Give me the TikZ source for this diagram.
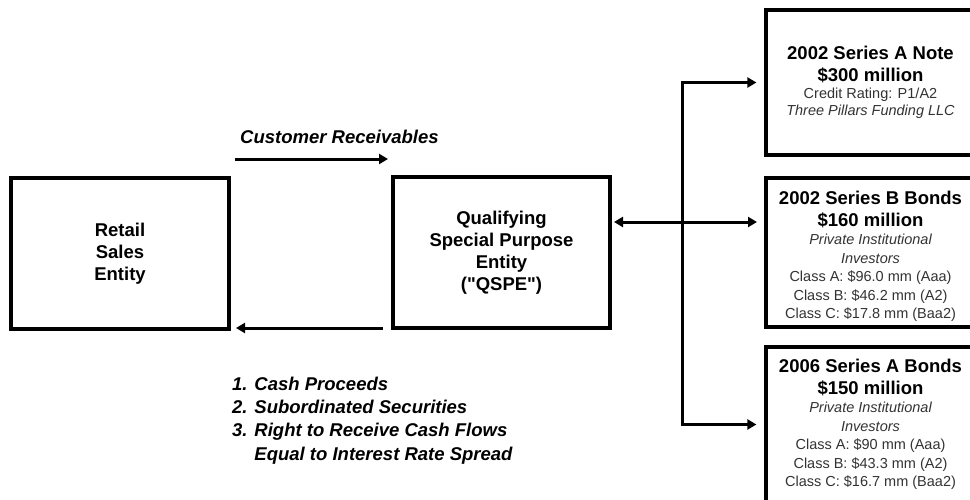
\documentclass[tikz,border=0pt]{standalone}
\usepackage{fontspec}
\setmainfont{Liberation Sans}
\usetikzlibrary{arrows.meta,calc}
\newcommand\straightdq{\XeTeXglyph\XeTeXcharglyph"22\relax}
\newcommand\bxtitle{\fontsize{18.5}{22}\bfseries\upshape\selectfont\color{black}}
\newcommand\bxsmall{\fontsize{14.5}{18.5}\mdseries\upshape\selectfont\color{black!80}}
\newcommand\bxsmallit{\fontsize{14.5}{18.5}\mdseries\itshape\selectfont\color{black!80}}
\tikzset{
  box/.style={draw=black, line width=3.2pt, rectangle, inner sep=0pt, fill=white},
  mainlbl/.style={font=\fontsize{18.5}{22}\bfseries\selectfont, align=center, inner sep=0pt},
  flowlbl/.style={font=\fontsize{18.5}{23.3}\bfseries\itshape\selectfont, align=left, inner sep=0pt},
  arr/.style={line width=3pt, -{Triangle[length=9pt,width=10pt]}},
  darr/.style={line width=3pt, {Triangle[length=9pt,width=10pt]}-{Triangle[length=9pt,width=10pt]}},
  plain/.style={line width=3pt},
}
\begin{document}
\begin{tikzpicture}[x=1pt,y=-1pt]
\useasboundingbox (0,0) rectangle (970,499);
\clip (0,0) rectangle (970,499);

% main boxes
\node[box, minimum width=218pt, minimum height=151pt] (rse) at (120,253.5) {};
\node[mainlbl] (rsetxt) at (rse.center) {Retail\\Sales\\Entity};

\node[box, minimum width=217pt, minimum height=151pt] (qspe) at (501.5,252.5) {};
\node[mainlbl] (qspetxt) at (qspe.center) {Qualifying\\Special Purpose\\Entity\\(\straightdq QSPE\straightdq)};

% right boxes
\node[box, minimum width=209pt, minimum height=145pt] (b1) at (870.5,82.5) {};
\node[inner sep=0pt] (b1txt) at (b1.center) {\begin{minipage}{205pt}\centering
{\bxtitle 2002 Series A Note\par}
{\bxtitle \$300 million\par}
{\fontsize{14.5}{17}\mdseries\selectfont\color{black!80} Credit Rating: P1/A2\par}
{\fontsize{14.5}{16.5}\mdseries\itshape\selectfont\color{black!80} Three Pillars Funding LLC\par}
\end{minipage}};

\node[box, minimum width=209pt, minimum height=149pt] (b2) at (870.5,252.5) {};
\node[inner sep=0pt] (b2txt) at ([yshift=-4pt]b2.center) {\begin{minipage}{205pt}\centering
{\bxtitle 2002 Series B Bonds\par}
{\bxtitle \$160 million\par}
{\bxsmallit Private Institutional\par}
{\bxsmallit Investors\par}
{\bxsmall Class A: \$96.0 mm (Aaa)\par}
{\bxsmall Class B: \$46.2 mm (A2)\par}
{\bxsmall Class C: \$17.8 mm (Baa2)\par}
\end{minipage}};

\node[box, minimum width=209pt, minimum height=155pt] (b3) at (870.5,424.5) {};
\node[inner sep=0pt] (b3txt) at ([yshift=0pt]b3.center) {\begin{minipage}{205pt}\centering
{\bxtitle 2006 Series A Bonds\par}
{\bxtitle \$150 million\par}
{\bxsmallit Private Institutional\par}
{\bxsmallit Investors\par}
{\bxsmall Class A: \$90 mm (Aaa)\par}
{\bxsmall Class B: \$43.3 mm (A2)\par}
{\bxsmall Class C: \$16.7 mm (Baa2)\par}
\end{minipage}};

% flows between retail and QSPE
\coordinate (crs) at (235,159);
\coordinate (cre) at (388,159);
\draw[arr] (crs) -- (cre);
\node[flowlbl, anchor=base west] (crlbl) at (240,143.6) {Customer Receivables};

\coordinate (cps) at (383,328);
\coordinate (cpe) at (236,328);
\draw[arr] (cps) -- (cpe);
\node[flowlbl, anchor=north west] (cplbl) at (232,376.5) {1. Cash Proceeds\\2. Subordinated Securities\\3. Right to Receive Cash Flows\\\phantom{3. }Equal to Interest Rate Spread};

% QSPE to note holders
\coordinate (dl) at (614,222);
\coordinate (dr) at (757,222);
\draw[darr] (dl) -- (dr);
\coordinate (fk) at (682,222);
\draw[plain, line cap=rect] (fk |- b1.west) -- (fk |- b3.west);
\draw[arr, shorten >=8pt] (fk |- b1.west) -- (b1.west);
\draw[arr, shorten >=8pt] (fk |- b3.west) -- (b3.west);
\end{tikzpicture}
\end{document}
